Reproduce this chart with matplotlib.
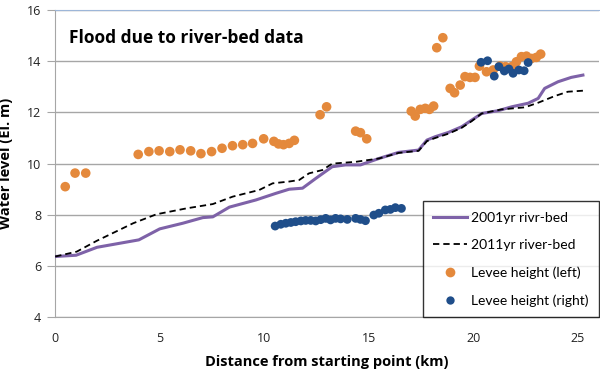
import matplotlib
matplotlib.use("Agg")
import matplotlib.pyplot as plt
from matplotlib.lines import Line2D

plt.rcParams['font.family'] = ['Open Sans', 'DejaVu Sans']

# 2001 river-bed profile
bed2001_x = [0, 1.0, 2.0, 4.0, 5.0, 6.1, 7.06, 7.54, 8.33, 9.6, 10.56, 11.19, 11.83,
             12.46, 13.25, 13.89, 14.6, 15.48, 16.43, 17.38, 17.78, 18.17, 18.81,
             19.44, 19.92, 20.4, 21.19, 21.83, 22.62, 23.1, 23.41, 24.05, 24.68, 25.24]
bed2001_y = [6.37, 6.42, 6.73, 7.02, 7.45, 7.67, 7.89, 7.92, 8.3, 8.58, 8.84, 9.0, 9.04,
             9.42, 9.88, 9.95, 9.95, 10.2, 10.44, 10.53, 10.92, 11.05, 11.22,
             11.44, 11.7, 11.96, 12.07, 12.22, 12.36, 12.55, 12.94, 13.2, 13.37, 13.46]

# 2011 river-bed profile
bed2011_x = [0, 1.03, 1.98, 3.73, 4.84, 6.27, 7.54, 8.49, 9.76, 10.4, 11.19, 11.67,
             12.14, 12.78, 13.25, 14.37, 15.48, 16.43, 17.38, 17.78, 18.17, 18.81,
             19.44, 19.92, 20.4, 21.35, 22.46, 23.1, 23.89, 24.52, 25.24]
bed2011_y = [6.37, 6.56, 6.98, 7.67, 8.02, 8.25, 8.42, 8.71, 8.97, 9.23, 9.3, 9.36,
             9.62, 9.75, 10.0, 10.07, 10.2, 10.42, 10.5, 10.88, 11.0, 11.17,
             11.4, 11.66, 11.96, 12.12, 12.2, 12.38, 12.64, 12.81, 12.85]

# levee height, left bank
left_x = [0.48, 0.95, 1.46, 3.97, 4.48, 4.97, 5.48, 5.97, 6.48, 6.97, 7.48, 7.98,
          8.48, 8.97, 9.44, 9.97, 10.46, 10.68, 10.92, 11.19, 11.44, 12.67, 12.98,
          14.37, 14.6, 14.9, 17.03, 17.22, 17.46, 17.7, 17.9, 18.1, 18.25, 18.54,
          18.89, 19.1, 19.37, 19.6, 19.84, 20.08, 20.29, 20.63, 20.95, 21.27,
          21.54, 21.83, 22.06, 22.3, 22.54, 22.78, 23.01, 23.22]
left_y = [9.1, 9.63, 9.63, 10.36, 10.47, 10.5, 10.47, 10.54, 10.5, 10.39, 10.47, 10.6,
          10.7, 10.74, 10.79, 10.97, 10.87, 10.77, 10.74, 10.79, 10.91, 11.91, 12.22,
          11.27, 11.21, 10.97, 12.05, 11.86, 12.12, 12.16, 12.12, 12.25, 14.53, 14.92,
          12.94, 12.77, 13.07, 13.4, 13.37, 13.37, 13.81, 13.59, 13.66, 13.81,
          13.79, 13.79, 13.98, 14.18, 14.2, 14.11, 14.15, 14.28]

# levee height, right bank
right_x = [10.52, 10.79, 11.03, 11.27, 11.5, 11.75, 11.98, 12.22, 12.46, 12.7, 12.94,
           13.17, 13.41, 13.65, 13.97, 14.37, 14.6, 14.84, 15.24, 15.48, 15.79, 16.03,
           16.27, 16.56, 20.37, 20.68, 21.0, 21.22, 21.48, 21.7, 21.9, 22.18, 22.43, 22.62]
right_y = [7.56, 7.63, 7.67, 7.7, 7.73, 7.76, 7.78, 7.78, 7.76, 7.81, 7.86,
           7.8, 7.86, 7.84, 7.82, 7.86, 7.82, 7.77, 7.99, 8.06, 8.19, 8.21,
           8.28, 8.25, 13.96, 14.02, 13.42, 13.79, 13.62, 13.7, 13.53, 13.66, 13.63, 13.95]

ORANGE = '#E4893C'
BLUE = '#1F4E8A'
PURPLE = '#7E62A8'

fig = plt.figure(figsize=(6, 3.74), dpi=100)
ax = fig.add_axes([0.092, 0.152, 0.906, 0.821])

ax.plot(bed2001_x, bed2001_y, color=PURPLE, lw=2.2, zorder=3)
ax.plot(bed2011_x, bed2011_y, color='black', lw=1.3, ls=(0, (3.5, 2.2)), zorder=4)
ax.scatter(left_x, left_y, s=48, color=ORANGE, edgecolors='none', zorder=5)
ax.scatter(right_x, right_y, s=40, color=BLUE, edgecolors='none', zorder=6)

ax.set_xlim(0, 26)
ax.set_ylim(4, 16)
ax.set_xticks([0, 5, 10, 15, 20, 25])
ax.set_yticks([4, 6, 8, 10, 12, 14, 16])
ax.yaxis.grid(True, color='#A6A6A6', lw=1.0)
ax.set_axisbelow(True)

ax.spines['right'].set_visible(False)
ax.spines['top'].set_color('#9DB6D8')
ax.spines['left'].set_color('#A6A6A6')
ax.spines['bottom'].set_color('#A6A6A6')
ax.tick_params(axis='y', length=6, color='#A6A6A6', labelsize=9, pad=4, labelcolor='#222222')
ax.tick_params(axis='x', length=0, labelsize=9, pad=11, labelcolor='#222222')

ax.set_xlabel('Distance from starting point (km)', fontsize=10.5, fontweight='bold', labelpad=7)
ax.set_ylabel('Water level (El. m)', fontsize=10.5, fontweight='bold', labelpad=10)

ax.text(0.025, 0.91, 'Flood due to river-bed data', transform=ax.transAxes,
        fontsize=12.5, fontweight='bold', va='center', ha='left')

handles = [
    Line2D([], [], color=PURPLE, lw=2.2),
    Line2D([], [], color='black', lw=1.3, ls=(0, (3.5, 2.2))),
    Line2D([], [], color=ORANGE, marker='o', ls='none', markersize=7, markeredgecolor='none'),
    Line2D([], [], color=BLUE, marker='o', ls='none', markersize=6, markeredgecolor='none'),
]
labels = ['2001yr rivr-bed', '2011yr river-bed', 'Levee height (left)', 'Levee height (right)']
leg = ax.legend(handles, labels, loc='lower right', bbox_to_anchor=(1.0, 0.0),
                prop={'family': ['Lato', 'DejaVu Sans'], 'size': 10},
                frameon=True, fancybox=False, edgecolor='black',
                handlelength=2.4, handletextpad=0.3, labelspacing=1.1, borderpad=0.75,
                borderaxespad=0.0)
leg.get_frame().set_linewidth(1.0)

fig.savefig('out.png', dpi=100)
